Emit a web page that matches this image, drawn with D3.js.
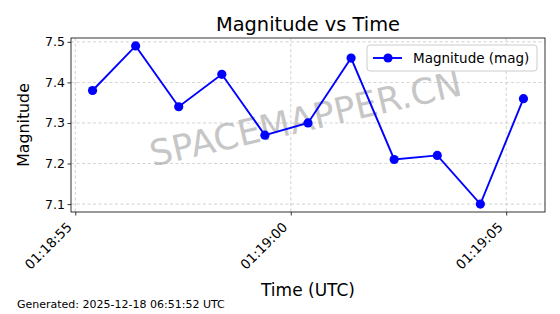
<!DOCTYPE html>
<html><head><meta charset="utf-8">
<script src="https://cdn.jsdelivr.net/npm/d3@7"></script>
<style>body{margin:0;background:#fff;}svg{display:block;font-family:"DejaVu Sans",sans-serif;}</style>
</head><body><svg id="c" width="560" height="314"></svg>
<script>
const times = ["01:18:55.4","01:18:56.4","01:18:57.4","01:18:58.4","01:18:59.4","01:19:00.4","01:19:01.4","01:19:02.4","01:19:03.4","01:19:04.4","01:19:05.4"];
const magnitudes = [7.38,7.49,7.34,7.42,7.27,7.30,7.46,7.21,7.22,7.10,7.36];
const yTicks = [7.1,7.2,7.3,7.4,7.5];
const xTickLabels = ["01:18:55","01:19:00","01:19:05"];

const parse = s => { const [h,m,sec]=s.split(":"); return new Date(Date.UTC(2025,0,1,+h,+m,0)+ (+sec)*1000); };
const data = times.map((t,i)=>({t:parse(t), v:magnitudes[i]}));
const svg = d3.select("#c");
const L=71,R=545,T=38,B=212;
const tExt = d3.extent(data,d=>d.t), tSpan = tExt[1]-tExt[0];
const x = d3.scaleUtc().domain([new Date(+tExt[0]-tSpan*0.05), new Date(+tExt[1]+tSpan*0.05)]).range([L,R]);
const vExt = d3.extent(magnitudes), vSpan = vExt[1]-vExt[0];
const y = d3.scaleLinear().domain([vExt[0]-vSpan*0.05, vExt[1]+vSpan*0.05]).range([B,T]);
const xTickDates = xTickLabels.map(s=>parse(s));

// grid
const g = svg.append("g");
g.selectAll(".gy").data(yTicks).join("line").attr("x1",L).attr("x2",R).attr("y1",d=>y(d)).attr("y2",d=>y(d)).attr("stroke","#b0b0b0").attr("stroke-width",0.8).attr("stroke-dasharray","3,2.5").attr("opacity",0.7);
g.selectAll(".gx").data(xTickDates).join("line").attr("y1",T).attr("y2",B).attr("x1",d=>x(d)).attr("x2",d=>x(d)).attr("stroke","#b0b0b0").attr("stroke-width",0.8).attr("stroke-dasharray","3,2.5").attr("opacity",0.7);

// watermark
svg.append("text").attr("x",306).attr("y",121).attr("text-anchor","middle").attr("dominant-baseline","middle")
 .attr("transform","rotate(-13,306,121)").style("font-size","35.5px").attr("fill","#999").attr("opacity",0.55).text("SPACEMAPPER.CN");

// line
svg.append("path").datum(data).attr("fill","none").attr("stroke","#0000ff").attr("stroke-width",1.9)
 .attr("d",d3.line().x(d=>x(d.t)).y(d=>y(d.v)));
svg.selectAll(".pt").data(data).join("circle").attr("cx",d=>x(d.t)).attr("cy",d=>y(d.v)).attr("r",4.6).attr("fill","#0000ff");

// axes
const ax = svg.append("g").attr("transform",`translate(0,${B})`).call(d3.axisBottom(x).tickValues(xTickDates).tickFormat(d3.utcFormat("%H:%M:%S")).tickSize(3.5).tickSizeOuter(0));
ax.attr("font-size",null).attr("font-family",null);
ax.select(".domain").remove();
ax.selectAll("line").attr("stroke","#000").attr("stroke-width",0.8);
ax.selectAll("text").style("font-size","13.3px").attr("fill","#000").attr("text-anchor","end").attr("dy",null).attr("x",0).attr("y",0)
 .attr("transform","translate(-3,16) rotate(-45)");
const ay = svg.append("g").attr("transform",`translate(${L},0)`).call(d3.axisLeft(y).tickValues(yTicks).tickFormat(d3.format(".1f")).tickSize(3.5).tickSizeOuter(0));
ay.attr("font-size",null).attr("font-family",null);
ay.select(".domain").remove();
ay.selectAll("line").attr("stroke","#000").attr("stroke-width",0.8);
ay.selectAll("text").style("font-size","12.5px").attr("fill","#000").attr("x",-6);
svg.append("rect").attr("x",L).attr("y",T).attr("width",R-L).attr("height",B-T).attr("fill","none").attr("stroke","#000").attr("stroke-width",0.8);

// title & labels
svg.append("text").attr("x",(L+R)/2).attr("y",31).attr("text-anchor","middle").style("font-size","19.4px").text("Magnitude vs Time");
svg.append("text").attr("transform",`translate(29,${(T+B)/2}) rotate(-90)`).attr("text-anchor","middle").style("font-size","15.8px").text("Magnitude");
svg.append("text").attr("x",(L+R)/2).attr("y",296).attr("text-anchor","middle").style("font-size","17px").text("Time (UTC)");
svg.append("text").attr("x",17).attr("y",308).style("font-size","11px").text("Generated: 2025-12-18 06:51:52 UTC");

// legend
const lg = svg.append("g").attr("transform","translate(367,45)");
lg.append("rect").attr("width",170).attr("height",26).attr("rx",3).attr("fill","#fff").attr("fill-opacity",0.8).attr("stroke","#ccc");
lg.append("line").attr("x1",6).attr("x2",35).attr("y1",13).attr("y2",13).attr("stroke","#0000ff").attr("stroke-width",1.9);
lg.append("circle").attr("cx",21).attr("cy",13).attr("r",4.6).attr("fill","#0000ff");
lg.append("text").attr("x",46).attr("y",18).style("font-size",'13.5px').text("Magnitude (mag)");
</script></body></html>
